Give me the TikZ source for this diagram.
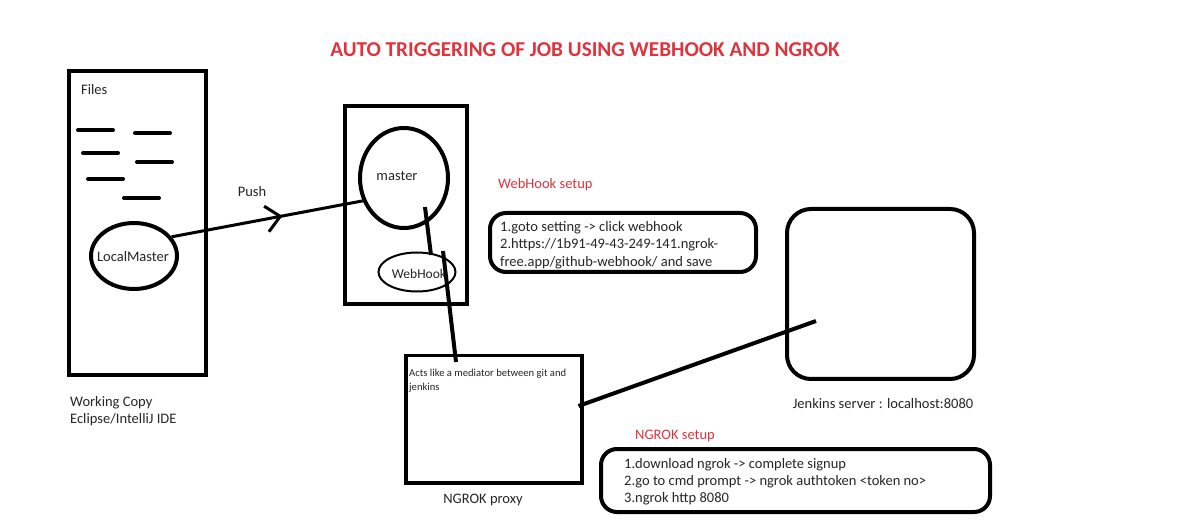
\documentclass[tikz,border=0pt]{standalone}
\usepackage{fontspec}
\setmainfont{Carlito}
\usetikzlibrary{shapes.geometric,arrows.meta,decorations.markings,calc}
\definecolor{titlered}{RGB}{222,52,62}
\definecolor{txt}{RGB}{38,38,38}
\tikzset{
  thick box/.style={draw=black, line width=4pt, inner sep=0pt, anchor=north west},
  oval/.style={ellipse, draw=black, line width=4pt, inner sep=0pt},
  body/.style={text=txt, font=\fontsize{14.5}{17.5}\selectfont, inner sep=0pt},
  small/.style={text=txt, font=\fontsize{10.6}{14}\selectfont, inner sep=0pt},
  redlabel/.style={text=titlered, font=\fontsize{14.5}{17}\selectfont, inner sep=0pt, anchor=west},
  wire/.style={draw=black, line width=4pt},
  dashline/.style={draw=black, line width=4pt, line cap=round},
  setupbox/.style={draw=black, line width=4pt, rounded corners=16pt, anchor=north west, inner sep=0pt},
}
\begin{document}
\begin{tikzpicture}[x=1pt,y=-1pt]
\useasboundingbox (0,0) rectangle (1192,521);
\fill[white] (0,0) rectangle (1192,521);

% title
\node[text=titlered, font=\bfseries\fontsize{21.2}{24}\selectfont, inner sep=0pt] (title) at (585,50) {AUTO TRIGGERING OF JOB USING WEBHOOK AND NGROK};

% working copy
\node[thick box, minimum width=137pt, minimum height=304pt] (wc) at (67,69) {};
\node[body, anchor=west] (files) at (81,90) {Files};
\coordinate (d1a) at (78,130); \coordinate (d1b) at (113,130);
\coordinate (d2a) at (135,133); \coordinate (d2b) at (170,133);
\coordinate (d3a) at (83,153); \coordinate (d3b) at (118,153);
\coordinate (d4a) at (137,162); \coordinate (d4b) at (172,162);
\coordinate (d5a) at (88,179); \coordinate (d5b) at (123,179);
\coordinate (d6a) at (124,198); \coordinate (d6b) at (159,198);
\draw[dashline] (d1a) -- (d1b);
\draw[dashline] (d2a) -- (d2b);
\draw[dashline] (d3a) -- (d3b);
\draw[dashline] (d4a) -- (d4b);
\draw[dashline] (d5a) -- (d5b);
\draw[dashline] (d6a) -- (d6b);
\node[oval, minimum width=86pt, minimum height=66pt] (lm) at (134,256) {};
\node[body] (lmtext) at (133,257) {LocalMaster};
\node[body, anchor=north west, align=left] (wclabel) at (70,396) {Working Copy\\Eclipse/IntelliJ IDE};

% remote repo
\node[thick box, minimum width=122pt, minimum height=198pt] (repo) at (343,104) {};
\node[oval, minimum width=88pt, minimum height=100pt] (master) at (404,178) {};
\node[body] (mastertext) at (397,176) {master};
\node[ellipse, draw=black, line width=2pt, inner sep=0pt, minimum width=77pt, minimum height=39pt] (wh) at (417,272) {};
\node[body, font=\fontsize{13.5}{16}\selectfont] (whtext) at (419,274) {WebHook};

% push
\draw[wire, line width=3pt,
  postaction={decorate},
  decoration={markings, mark=at position 0.58 with {\arrow{Straight Barb[length=14pt,width=26pt,line width=3pt]}}}]
  (lm.27) -- (master.209);
\node[body] (push) at (252,192) {Push};

% master -> webhook
\draw[wire] ([shift={(21,29)}]master.center) -- ([shift={(14,-17)}]wh.center);

% ngrok proxy
\node[draw=black, line width=3.5pt, inner sep=0pt, anchor=north west, minimum width=176pt, minimum height=127pt] (proxy) at (404,354) {};
\node[small, anchor=north west, align=left] (proxytext) at (409,369) {Acts like a mediator between git and\\jenkins};
\node[body] (proxylabel) at (483,500) {NGROK proxy};
\draw[wire] ([shift={(26,-21)}]wh.center) -- ([shift={(52,8)}]proxy.north west);

% jenkins
\node[draw=black, line width=4pt, rounded corners=24pt, inner sep=0pt, anchor=north west, minimum width=187pt, minimum height=170pt] (jenkins) at (785,207) {};
\node[body] (jlabel) at (883,404) {Jenkins server : localhost:8080};
\draw[wire] ([shift={(-5,52)}]proxy.north east) -- ([shift={(31,114)}]jenkins.north west);

% webhook setup
\node[redlabel] (whsetup) at (498,185) {WebHook setup};
\node[setupbox, minimum width=266pt, minimum height=59pt] (whbox) at (488,211) {};
\node[body, anchor=north west, align=left] (whsteps) at (500,221) {1.goto setting -> click webhook\\2.https://1b91-49-43-249-141.ngrok-\\free.app/github-webhook/ and save};

% ngrok setup
\node[redlabel] (ngsetup) at (635,436) {NGROK setup};
\node[setupbox, minimum width=389pt, minimum height=63pt] (ngbox) at (599,447) {};
\node[body, anchor=north west, align=left, font=\fontsize{14.5}{17}\selectfont] (ngsteps) at (624,458) {1.download ngrok -> complete signup\\2.go to cmd prompt -> ngrok authtoken <token no>\\3.ngrok http 8080};
\end{tikzpicture}
\end{document}
